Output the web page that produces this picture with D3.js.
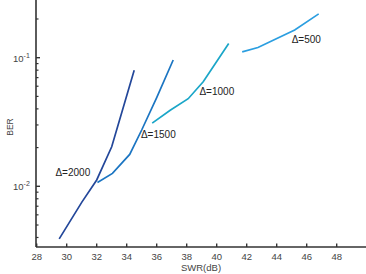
<!DOCTYPE html>
<html>
<head>
<meta charset="utf-8">
<script src="https://cdn.jsdelivr.net/npm/d3@7"></script>
<style>
  body { margin: 0; background: #fff; }
  svg { display: block; font-family: "Liberation Sans", Arial, sans-serif; }
</style>
</head>
<body>
<svg width="366" height="274"></svg>
<script>
// series: SWR (dB) vs BER
const swr2000 = [29.5, 31, 32, 33, 34.5];
const ber2000 = [0.0039, 0.0075, 0.0112, 0.0203, 0.080];
const swr1500 = [32.05, 33.05, 34.2, 35, 36, 37.1];
const ber1500 = [0.0107, 0.0126, 0.0177, 0.0274, 0.049, 0.096];
const swr1000 = [35.7, 36.9, 38.1, 39.1, 40.8];
const ber1000 = [0.031, 0.039, 0.048, 0.065, 0.129];
const swr500 = [41.7, 42.75, 45.2, 46.8];
const ber500 = [0.111, 0.120, 0.164, 0.219];

const labels = ['\u0394=2000', '\u0394=1500', '\u0394=1000', '\u0394=500'];
const labelSwr = [29.25, 34.95, 38.85, 45.0];
const labelBer = [0.0127, 0.0253, 0.0546, 0.1385];
const xTicks = [28, 30, 32, 34, 36, 38, 40, 42, 44, 46, 48];
const yMajor = [0.01, 0.1];
const yExp = [-2, -1];

const svg = d3.select('svg');
const x = d3.scaleLinear().domain([28, 50]).range([36.7, 366.7]);
const y = d3.scaleLog().domain([0.01, 0.1]).range([186.3, 57.7]);
const yBot = 247, xLeft = 36;

const colors = ['#23479a', '#1b75c2', '#1aa6c8', '#2b9ee0'];
const series = [
  [swr2000, ber2000], [swr1500, ber1500], [swr1000, ber1000], [swr500, ber500]
];

// axes
const axisCol = '#333';
svg.append('line').attr('x1', xLeft).attr('x2', 366).attr('y1', yBot).attr('y2', yBot)
  .attr('stroke', axisCol).attr('stroke-width', 1.6);
svg.append('line').attr('x1', xLeft).attr('x2', xLeft).attr('y1', 0).attr('y2', yBot)
  .attr('stroke', axisCol).attr('stroke-width', 1.6);

svg.selectAll('.xt').data(xTicks).enter().append('line')
  .attr('x1', d => x(d)).attr('x2', d => x(d))
  .attr('y1', yBot).attr('y2', yBot - 3.5)
  .attr('stroke', axisCol).attr('stroke-width', 1.4);
svg.selectAll('.xl').data(xTicks).enter().append('text')
  .attr('x', d => x(d)).attr('y', yBot + 13)
  .attr('text-anchor', 'middle').attr('font-size', 9.5).attr('fill', '#444')
  .text(d => d);

// y minor ticks
let minor = [];
for (let dec of [0.001, 0.01, 0.1]) {
  for (let k = 2; k <= 9; k++) minor.push(dec * k);
}
minor = minor.filter(v => y(v) > 0 && y(v) < yBot);
svg.selectAll('.ym').data(minor).enter().append('line')
  .attr('x1', xLeft).attr('x2', xLeft + 2.5)
  .attr('y1', d => y(d)).attr('y2', d => y(d))
  .attr('stroke', axisCol).attr('stroke-width', 1.2);
svg.selectAll('.yM').data(yMajor).enter().append('line')
  .attr('x1', xLeft).attr('x2', xLeft + 4)
  .attr('y1', d => y(d)).attr('y2', d => y(d))
  .attr('stroke', axisCol).attr('stroke-width', 1.4);

const yl = svg.selectAll('.yl').data(yMajor).enter().append('text')
  .attr('x', 13).attr('y', d => y(d) + 4)
  .attr('font-size', 9.5).attr('fill', '#444');
yl.append('tspan').text('10');
yl.append('tspan').attr('dy', -4).attr('font-size', 7).text((d, i) => yExp[i]);

// axis titles
svg.append('text').attr('x', 201).attr('y', 271).attr('text-anchor', 'middle')
  .attr('font-size', 9.5).attr('fill', '#444').text('SWR(dB)');
svg.append('text').attr('transform', 'translate(13,127) rotate(-90)')
  .attr('text-anchor', 'middle').attr('font-size', 8.5).attr('fill', '#444').text('BER');

// curves
const line = d3.line().x(d => x(d[0])).y(d => y(d[1]));
series.forEach((s, i) => {
  svg.append('path')
    .datum(d3.zip(s[0], s[1]))
    .attr('d', line)
    .attr('fill', 'none')
    .attr('stroke', colors[i])
    .attr('stroke-width', 1.7);
});

// labels
svg.selectAll('.lab').data(labels).enter().append('text')
  .attr('x', (d, i) => x(labelSwr[i])).attr('y', (d, i) => y(labelBer[i]) + 3.5)
  .attr('font-size', 10).attr('fill', '#222')
  .text(d => d);
</script>
</body>
</html>
